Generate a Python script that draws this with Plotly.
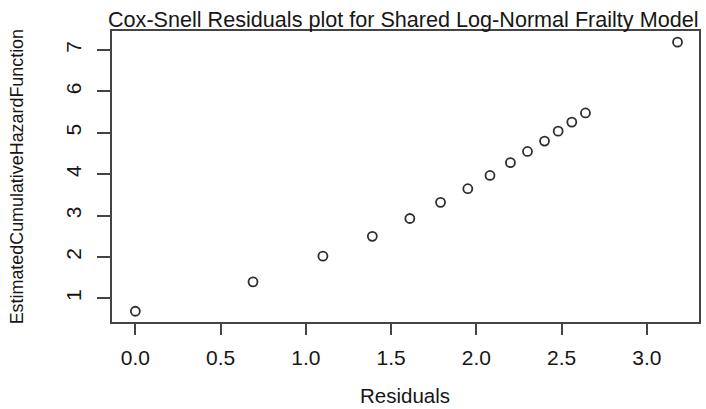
import plotly.graph_objects as go

# Data
residuals = [0.00, 0.69, 1.10, 1.39, 1.61, 1.79, 1.95, 2.08, 2.20, 2.30, 2.40, 2.48, 2.56, 2.64, 3.18]
cum_hazard = [0.69, 1.40, 2.02, 2.50, 2.93, 3.32, 3.65, 3.97, 4.28, 4.55, 4.80, 5.04, 5.26, 5.48, 7.19]

x_ticks = [0.0, 0.5, 1.0, 1.5, 2.0, 2.5, 3.0]
x_tick_text = ["0.0", "0.5", "1.0", "1.5", "2.0", "2.5", "3.0"]
y_ticks = [1, 2, 3, 4, 5, 6, 7]

title_text = "Cox-Snell Residuals plot for Shared Log-Normal Frailty Model"
x_title = "Residuals"
y_title = "EstimatedCumulativeHazardFunction"

FONT = "Liberation Sans, Arial, sans-serif"
TXT = "#161616"
AX = "#444444"

W, H = 706, 409
L, R, T, B = 112, 5, 31, 87
pw, ph = W - L - R, H - T - B


def px_to_paper(px, py):
    return (px - L) / pw, (H - B - py) / ph


fig = go.Figure()
fig.add_trace(go.Scatter(
    x=residuals, y=cum_hazard, mode="markers",
    marker=dict(symbol="circle-open", size=9, color="#2e2e2e", line=dict(width=1.8, color="#2e2e2e")),
    showlegend=False, hoverinfo="x+y",
))

common = dict(
    showgrid=False, zeroline=False, showline=True, mirror=True,
    linecolor=AX, linewidth=1.6, ticks="outside", tickcolor=AX, tickwidth=1.6,
    tickfont=dict(family=FONT, size=21, color=TXT),
)

fig.update_xaxes(range=[-0.137, 3.306], tickvals=x_ticks, ticktext=x_tick_text,
                 ticklen=11, ticklabelstandoff=5, **common)
fig.update_yaxes(range=[0.43, 7.46], tickvals=y_ticks, tickangle=-90,
                 ticklen=13, ticklabelstandoff=8, **common)

annotations = []
tx, ty = px_to_paper(404, 20)
annotations.append(dict(text=title_text, x=tx, y=ty, xref="paper", yref="paper",
                        xanchor="center", yanchor="middle", showarrow=False,
                        font=dict(family=FONT, size=21.6, color=TXT)))
xx, xy = px_to_paper(406, 395)
annotations.append(dict(text=x_title, x=xx, y=xy, xref="paper", yref="paper",
                        xanchor="center", yanchor="middle", showarrow=False,
                        font=dict(family=FONT, size=20.5, color=TXT)))
yx, yy = px_to_paper(17, 177)
annotations.append(dict(text=y_title, x=yx, y=yy, xref="paper", yref="paper",
                        xanchor="center", yanchor="middle", showarrow=False, textangle=-90,
                        font=dict(family=FONT, size=17.9, color=TXT)))

fig.update_layout(
    width=W, height=H, margin=dict(l=L, r=R, t=T, b=B),
    paper_bgcolor="white", plot_bgcolor="white",
    annotations=annotations,
)

fig.write_html("out.html")
